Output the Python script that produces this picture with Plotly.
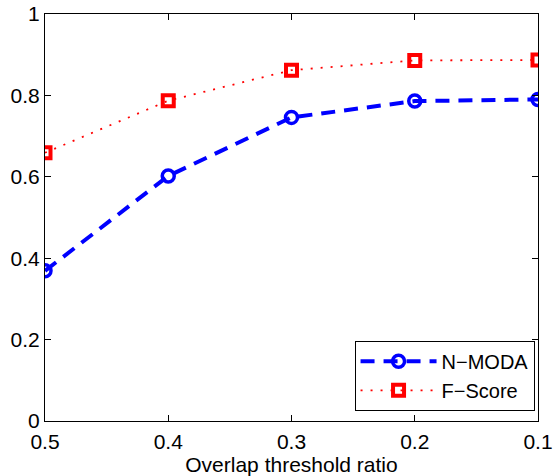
import plotly.graph_objects as go

thresholds = [0.5, 0.4, 0.3, 0.2, 0.1]
n_moda = [0.369, 0.602, 0.746, 0.786, 0.790]
f_score = [0.659, 0.787, 0.862, 0.886, 0.887]
x_ticks = [0.5, 0.4, 0.3, 0.2, 0.1]
x_tick_labels = ["0.5", "0.4", "0.3", "0.2", "0.1"]
y_ticks = [0, 0.2, 0.4, 0.6, 0.8, 1]
y_tick_labels = ["0", "0.2", "0.4", "0.6", "0.8", "1"]

FONT = "Liberation Sans, Arial, Helvetica, sans-serif"

fig = go.Figure()
fig.add_trace(go.Scatter(
    x=thresholds, y=n_moda, name="N\u2212MODA", mode="lines+markers",
    line=dict(color="#0000ff", width=4, dash="14px,9px"),
    marker=dict(symbol="circle-open", size=12, color="#0000ff", line=dict(width=3.5, color="#0000ff")),
))
fig.add_trace(go.Scatter(
    x=thresholds, y=f_score, name="F\u2212Score", mode="lines+markers",
    line=dict(color="#ff0000", width=1.8, dash="2px,8px"),
    marker=dict(symbol="square-open", size=11, color="#ff0000", line=dict(width=4, color="#ff0000")),
))

axis_common = dict(
    showline=True, linecolor="black", linewidth=1.2, mirror="ticks",
    ticks="inside", ticklen=6, tickcolor="black", showgrid=False, zeroline=False,
    tickfont=dict(family=FONT, size=21, color="black"),
    automargin=False,
)
fig.update_xaxes(range=[0.5, 0.1], tickvals=x_ticks, ticktext=x_tick_labels,
                 ticklabelstandoff=2,
                 title=dict(text="Overlap threshold ratio", standoff=5,
                            font=dict(family=FONT, size=21, color="black")),
                 **axis_common)
fig.update_yaxes(range=[0, 1], tickvals=y_ticks, ticktext=y_tick_labels, **axis_common)

fig.update_layout(
    width=553, height=476,
    margin=dict(l=45, r=15, t=14, b=55),
    paper_bgcolor="white", plot_bgcolor="white",
    showlegend=True,
    legend=dict(x=0.993, y=0.025, xanchor="right", yanchor="bottom",
                bgcolor="white", bordercolor="black", borderwidth=1,
                font=dict(family=FONT, size=20, color="black"),
                tracegroupgap=0, itemwidth=76),
)
fig.write_html("out.html",
               config={"displayModeBar": False},
               post_script="document.body.style.margin='0';document.body.style.overflow='hidden';")
